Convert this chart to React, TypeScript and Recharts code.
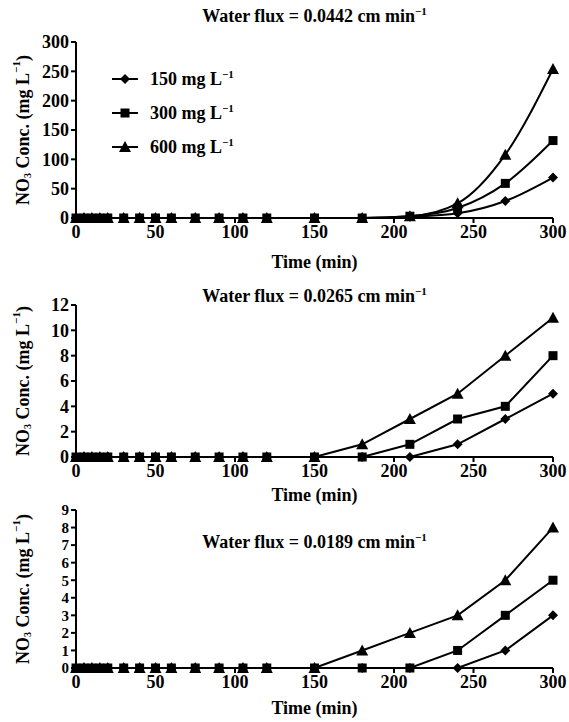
import React from "react";
import { LineChart, Line, XAxis, YAxis } from "recharts";

const TIME = [0, 5, 10, 15, 20, 30, 40, 50, 60, 75, 90, 105, 120, 150, 180, 210, 240, 270, 300];
const X_TICKS = [0, 50, 100, 150, 200, 250, 300];

// water flux 0.0442
const A_150 = [0, 0, 0, 0, 0, 0, 0, 0, 0, 0, 0, 0, 0, 0, 0, 2, 8, 29, 69];
const A_300 = [0, 0, 0, 0, 0, 0, 0, 0, 0, 0, 0, 0, 0, 0, 0, 3, 17, 59, 132];
const A_600 = [0, 0, 0, 0, 0, 0, 0, 0, 0, 0, 0, 0, 0, 0, 0, 3, 25, 108, 254];
const A_TICKS = [0, 50, 100, 150, 200, 250, 300];

// water flux 0.0265
const B_150 = [0, 0, 0, 0, 0, 0, 0, 0, 0, 0, 0, 0, 0, 0, 0, 0, 1, 3, 5];
const B_300 = [0, 0, 0, 0, 0, 0, 0, 0, 0, 0, 0, 0, 0, 0, 0, 1, 3, 4, 8];
const B_600 = [0, 0, 0, 0, 0, 0, 0, 0, 0, 0, 0, 0, 0, 0, 1, 3, 5, 8, 11];
const B_TICKS = [0, 2, 4, 6, 8, 10, 12];

// water flux 0.0189
const C_150 = [0, 0, 0, 0, 0, 0, 0, 0, 0, 0, 0, 0, 0, 0, 0, 0, 0, 1, 3];
const C_300 = [0, 0, 0, 0, 0, 0, 0, 0, 0, 0, 0, 0, 0, 0, 0, 0, 1, 3, 5];
const C_600 = [0, 0, 0, 0, 0, 0, 0, 0, 0, 0, 0, 0, 0, 0, 1, 2, 3, 5, 8];
const C_TICKS = [0, 1, 2, 3, 4, 5, 6, 7, 8, 9];

const FONT = "'Liberation Serif', 'Times New Roman', serif";
const tickStyle = (size: number) => ({ fill: "#000", fontSize: size, fontFamily: FONT, fontWeight: "bold" });

const toRows = (a: number[], b: number[], c: number[]) =>
  TIME.map((t, i) => ({ t, c150: a[i], c300: b[i], c600: c[i] }));

const Diamond = (p: any) => {
  const { cx, cy } = p;
  if (cx == null || cy == null) return null;
  return <path d={`M${cx},${cy - 5}L${cx + 5},${cy}L${cx},${cy + 5}L${cx - 5},${cy}Z`} fill="#000" />;
};
const Square = (p: any) => {
  const { cx, cy } = p;
  if (cx == null || cy == null) return null;
  return <rect x={cx - 4.5} y={cy - 4.5} width={9} height={9} fill="#000" />;
};
const Triangle = (p: any) => {
  const { cx, cy } = p;
  if (cx == null || cy == null) return null;
  return <path d={`M${cx},${cy - 6}L${cx + 6},${cy + 5}L${cx - 6},${cy + 5}Z`} fill="#000" />;
};

const SERIES = [
  { key: "c150", name: "150", Dot: Diamond },
  { key: "c300", name: "300", Dot: Square },
  { key: "c600", name: "600", Dot: Triangle },
];

const YTitle = (p: any) => {
  const vb = p.viewBox || {};
  const x = 23;
  const y = vb.y + vb.height / 2;
  return (
    <text x={x} y={y} transform={`rotate(-90 ${x} ${y})`} textAnchor="middle" dominantBaseline="central"
      fontFamily={FONT} fontSize={18} fontWeight="bold" fill="#000">
      NO<tspan dy={4} fontSize={10}>3</tspan>
      <tspan dy={-4}> Conc. (mg L</tspan>
      <tspan dy={-7} fontSize={11}>−1</tspan>
      <tspan dy={7}>)</tspan>
    </text>
  );
};

const XTitle = (off: number) => (p: any) => {
  const vb = p.viewBox || {};
  return (
    <text x={vb.x + vb.width / 2} y={vb.y + off} textAnchor="middle" dominantBaseline="central"
      fontFamily={FONT} fontSize={18} fontWeight="bold" fill="#000">
      Time (min)
    </text>
  );
};

const LegendBox = () => (
  <div style={{ position: "absolute", left: 112, top: 62, fontFamily: FONT, fontSize: 18,
    fontWeight: "bold", color: "#000" }}>
    {SERIES.map((s) => (
      <div key={s.key} style={{ display: "flex", alignItems: "center", height: 34 }}>
        <svg width={26} height={14} style={{ marginRight: 12 }}>
          <line x1={0} y1={7} x2={26} y2={7} stroke="#000" strokeWidth={2} />
          <s.Dot cx={13} cy={7} />
        </svg>
        <span>
          {s.name} mg L<sup style={{ fontSize: 11 }}>−1</sup>
        </span>
      </div>
    ))}
  </div>
);

interface PanelProps {
  top: number;
  height: number;
  plotTop: number;
  plotBottom: number;
  title: string;
  titleY: number;
  rows: any[];
  yMax: number;
  yTicks: number[];
  yFont: number;
  xLabelOff: number;
  order: string[];
  curve: "monotone" | "linear";
  legend?: boolean;
}

function Panel(p: PanelProps) {
  const axisH = p.height - p.plotBottom;
  return (
    <div style={{ position: "absolute", left: 0, top: p.top, width: 569, height: p.height }}>
      <LineChart width={569} height={p.height} data={p.rows}
        margin={{ top: p.plotTop, right: 16, left: 0, bottom: 0 }}>
        <XAxis dataKey="t" type="number" domain={[0, 300]} ticks={X_TICKS} interval={0}
          height={axisH} tick={tickStyle(18)} tickSize={5} tickMargin={2}
          axisLine={{ stroke: "#000", strokeWidth: 2 }} tickLine={{ stroke: "#000", strokeWidth: 2 }}
          label={{ content: XTitle(p.xLabelOff) }} />
        <YAxis type="number" domain={[0, p.yMax]} ticks={p.yTicks} interval={0} width={76}
          tick={tickStyle(p.yFont)} tickSize={5} tickMargin={2}
          axisLine={{ stroke: "#000", strokeWidth: 2 }} tickLine={{ stroke: "#000", strokeWidth: 2 }}
          label={{ content: YTitle }} />
        {p.order.map((k) => {
          const s = SERIES.find((x) => x.key === k)!;
          return (
            <Line key={k} dataKey={k} type={p.curve} stroke="#000" strokeWidth={2}
              dot={<s.Dot />} activeDot={false} isAnimationActive={false} />
          );
        })}
      </LineChart>
      {p.legend && <LegendBox />}
      <div style={{ position: "absolute", left: 76, width: 477, top: p.titleY - 12, textAlign: "center",
        fontFamily: FONT, fontSize: 18, fontWeight: "bold", color: "#000", whiteSpace: "nowrap" }}>
        {p.title}<sup style={{ fontSize: 11 }}>−1</sup>
      </div>
    </div>
  );
}

export default function App() {
  return (
    <div style={{ position: "absolute", left: 0, top: 0, width: 569, height: 722, background: "#fff" }}>
      <Panel top={0} height={275} plotTop={42} plotBottom={218} title="Water flux = 0.0442 cm min"
        titleY={17} rows={toRows(A_150, A_300, A_600)} yMax={300} yTicks={A_TICKS} yFont={18}
        xLabelOff={44} order={["c150", "c600", "c300"]} curve="monotone" legend />
      <Panel top={280} height={228} plotTop={25} plotBottom={177} title="Water flux = 0.0265 cm min"
        titleY={17} rows={toRows(B_150, B_300, B_600)} yMax={12} yTicks={B_TICKS} yFont={18}
        xLabelOff={38} order={["c150", "c600", "c300"]} curve="linear" />
      <Panel top={490} height={232} plotTop={20} plotBottom={178} title="Water flux = 0.0189 cm min"
        titleY={53} rows={toRows(C_150, C_300, C_600)} yMax={9} yTicks={C_TICKS} yFont={15}
        xLabelOff={40} order={["c150", "c300", "c600"]} curve="linear" />
    </div>
  );
}
